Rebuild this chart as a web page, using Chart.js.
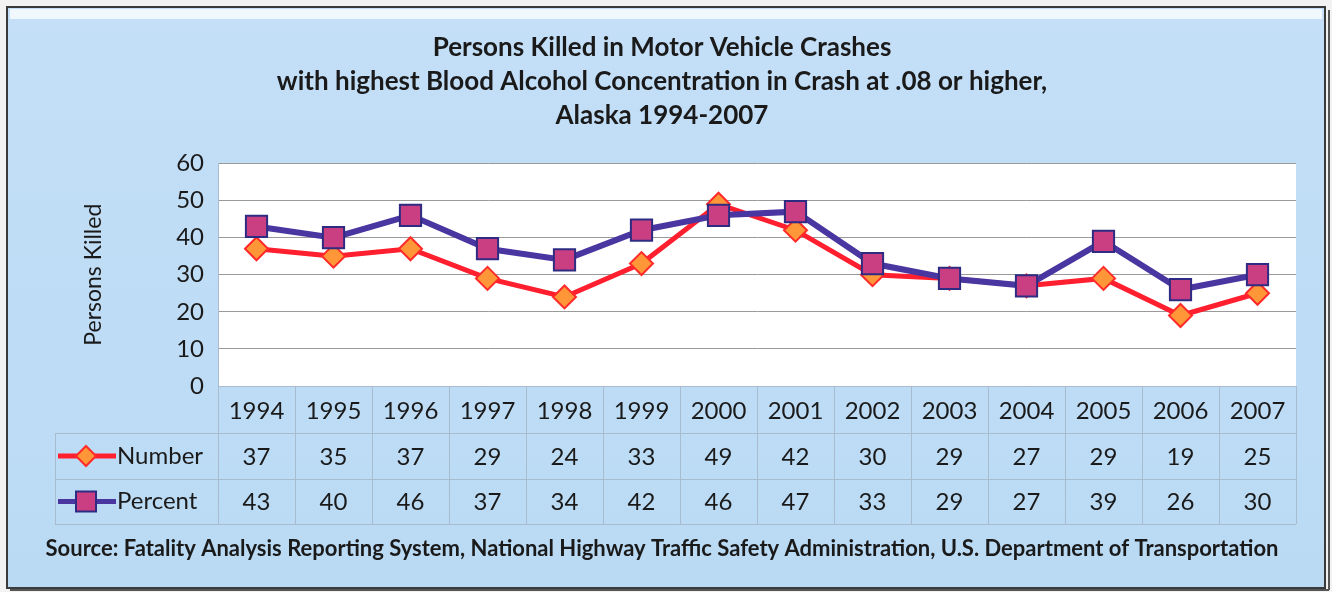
<!DOCTYPE html>
<html>
<head>
<meta charset="utf-8">
<script src="https://cdn.jsdelivr.net/npm/chart.js@4"></script>
<style>
  html, body { margin: 0; padding: 0; background: #f4f4f4; }
  #wrap { width: 1332px; height: 592px; }
</style>
</head>
<body>
<div id="wrap"><canvas id="myChart" width="1332" height="592"></canvas></div>
<script>
const years = ["1994", "1995", "1996", "1997", "1998", "1999", "2000", "2001", "2002", "2003", "2004", "2005", "2006", "2007"];
const numberKilled = [37, 35, 37, 29, 24, 33, 49, 42, 30, 29, 27, 29, 19, 25];
const percentKilled = [43, 40, 46, 37, 34, 42, 46, 47, 33, 29, 27, 39, 26, 30];
const yTicks = [0, 10, 20, 30, 40, 50, 60];

const FONT = "Lato, 'Open Sans', sans-serif";
const GRID = "#a9bccf";

// frame + light blue panel behind everything
const framePlugin = {
  id: "frame",
  beforeDraw(chart) {
    const c = chart.ctx;
    c.save();
    c.fillStyle = "#f2f2f2";
    c.fillRect(0, 0, chart.width, chart.height);
    const g = c.createLinearGradient(0, 8, 0, 588);
    g.addColorStop(0, "#c4dff7");
    g.addColorStop(1, "#badaf4");
    c.fillStyle = g;
    c.fillRect(7, 7, 1318, 581);
    // top highlight
    c.fillStyle = "rgba(255,255,255,0.75)";
    c.fillRect(10, 9, 1312, 10);
    c.strokeStyle = "#3a3a3a";
    c.lineWidth = 2;
    c.strokeRect(7, 7, 1318, 581);
    c.strokeStyle = "#555";
    c.lineWidth = 2;
    c.beginPath();
    c.moveTo(1329, 10); c.lineTo(1329, 590);
    c.moveTo(10, 590); c.lineTo(1329, 590);
    c.stroke();
    // white plot area
    const a = chart.chartArea;
    c.fillStyle = "#ffffff";
    c.fillRect(a.left, a.top, a.right - a.left, a.bottom - a.top);
    c.restore();
  }
};

// data table under the x axis, built from the same arrays
const tablePlugin = {
  id: "dataTable",
  afterDraw(chart) {
    const c = chart.ctx;
    const x = chart.scales.x;
    const a = chart.chartArea;
    const band = (x.getPixelForValue(1) - x.getPixelForValue(0));
    const left = a.left, right = a.right;
    const rowTop = a.bottom;
    const r1 = rowTop + 47, r2 = r1 + 46, r3 = r2 + 45;
    const legLeft = 55;
    c.save();
    c.strokeStyle = GRID;
    c.lineWidth = 1;
    c.beginPath();
    // horizontal lines
    c.moveTo(left, rowTop + 0.5); c.lineTo(right, rowTop + 0.5);
    [r1, r2, r3].forEach(yy => { c.moveTo(legLeft, yy + 0.5); c.lineTo(right, yy + 0.5); });
    // vertical lines
    for (let i = 0; i <= years.length; i++) {
      const xx = Math.round(left + i * band) + 0.5;
      c.moveTo(xx, rowTop); c.lineTo(xx, r3);
    }
    c.moveTo(legLeft + 0.5, r1); c.lineTo(legLeft + 0.5, r3);
    c.stroke();

    c.font = "24px " + FONT;
    c.fillStyle = "#1a1a1a";
    c.textAlign = "center";
    c.textBaseline = "middle";
    const rows = [numberKilled, percentKilled];
    const mids = [(r1 + r2) / 2, (r2 + r3) / 2];
    rows.forEach((vals, ri) => {
      vals.forEach((v, i) => {
        c.fillText(String(v), x.getPixelForValue(i), mids[ri] + 1);
      });
    });

    // legend keys
    chart.data.datasets.forEach((ds, ri) => {
      const ym = mids[ri];
      c.strokeStyle = ds.borderColor;
      c.lineWidth = 5;
      c.beginPath();
      c.moveTo(58, ym); c.lineTo(116, ym);
      c.stroke();
      c.fillStyle = ds.pointBackgroundColor;
      c.strokeStyle = ds.pointBorderColor;
      c.lineWidth = 2;
      c.beginPath();
      if (ds.pointStyle === "rectRot") {
        c.moveTo(86, ym - 10); c.lineTo(96, ym); c.lineTo(86, ym + 10); c.lineTo(76, ym);
        c.closePath();
      } else {
        c.rect(76, ym - 10, 20, 20);
      }
      c.fill(); c.stroke();
      c.fillStyle = "#1a1a1a";
      c.textAlign = "left";
      c.fillText(ds.label, 117, ym);
    });
    c.restore();
  }
};

const ctx = document.getElementById("myChart");
const myChart = new Chart(ctx, {
  type: "line",
  data: {
    labels: years,
    datasets: [
      {
        label: "Number",
        data: numberKilled,
        borderColor: "#ff1f2e",
        borderWidth: 5,
        pointStyle: "rectRot",
        pointRadius: 11.5,
        pointBackgroundColor: "#ff9638",
        pointBorderColor: "#ff2a2a",
        pointBorderWidth: 2,
        order: 2,
      },
      {
        label: "Percent",
        data: percentKilled,
        borderColor: "#4a36a0",
        borderWidth: 6,
        pointStyle: "rect",
        pointRadius: 15,
        pointBackgroundColor: "#c93f82",
        pointBorderColor: "#2e2c82",
        pointBorderWidth: 2,
        order: 1,
      },
    ],
  },
  options: {
    responsive: false,
    animation: false,
    layout: {
      padding: { left: 28, right: 36, top: 30, bottom: 25.6 },
    },
    plugins: {
      legend: { display: false },
      tooltip: { enabled: false },
      title: {
        display: true,
        text: [
          "Persons Killed in Motor Vehicle Crashes",
          "with highest Blood Alcohol Concentration in Crash at .08 or higher,",
          "Alaska 1994-2007",
        ],
        color: "#1a1a1a",
        font: { family: FONT, size: 26, weight: "bold", lineHeight: 1.3 },
        padding: { top: 1, bottom: 31 },
      },
      subtitle: {
        display: true,
        position: "bottom",
        text: "Source: Fatality Analysis Reporting System, National Highway Traffic Safety Administration, U.S. Department of Transportation",
        color: "#1a1a1a",
        font: { family: FONT, size: 22, weight: "bold", lineHeight: 1.2 },
        padding: { top: 14, bottom: 4 },
      },
    },
    scales: {
      x: {
        offset: true,
        grid: { display: false, drawTicks: false },
        border: { display: false },
        ticks: {
          color: "#1a1a1a",
          font: { family: FONT, size: 24 },
          padding: 11,
          maxRotation: 0,
          autoSkip: false,
        },
        afterFit(scale) { scale.height = 136; },
      },
      y: {
        min: 0,
        max: 60,
        afterBuildTicks(scale) { scale.ticks = yTicks.map(v => ({ value: v })); },
        grid: { color: "#9a9a9a", drawTicks: false, lineWidth: 1 },
        border: { display: true, color: GRID },
        ticks: {
          color: "#1a1a1a",
          font: { family: FONT, size: 24 },
          padding: 14,
        },
        title: {
          display: true,
          text: "Persons Killed",
          color: "#1a1a1a",
          font: { family: FONT, size: 23 },
          padding: { top: 52, bottom: 0 },
        },
        afterFit(scale) { scale.width = 190; },
      },
    },
  },
  plugins: [framePlugin, tablePlugin],
});
</script>
</body>
</html>
